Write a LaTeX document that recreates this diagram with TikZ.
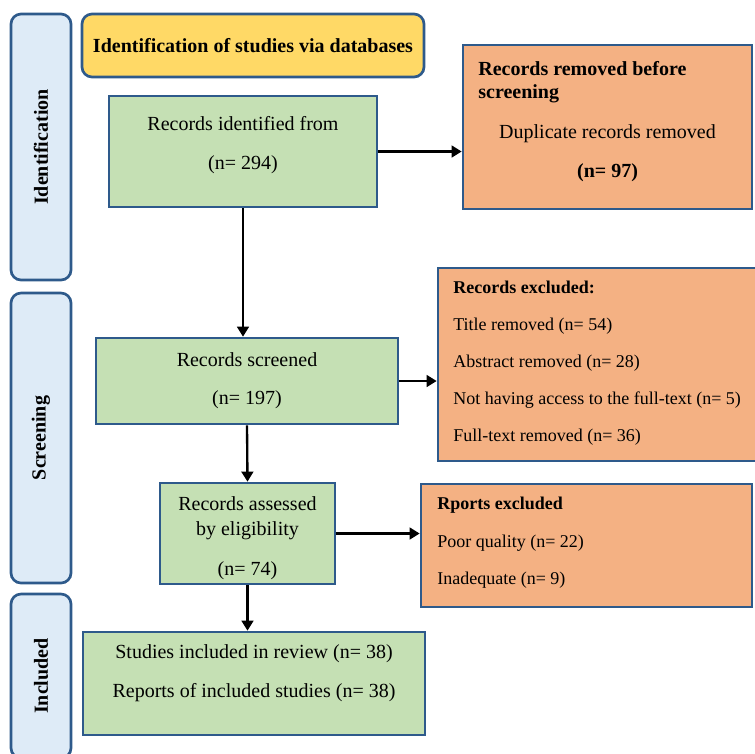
\documentclass[tikz,border=0pt]{standalone}
\usepackage{fontspec}
\setmainfont{Liberation Serif}
\usetikzlibrary{arrows.meta}

\definecolor{boxline}{HTML}{2E5A8B}
\definecolor{boxgreen}{HTML}{C5E0B4}
\definecolor{boxorange}{HTML}{F4B183}
\definecolor{boxyellow}{HTML}{FFD966}
\definecolor{boxblue}{HTML}{DEEBF7}

\begin{document}
\begin{tikzpicture}[x=0.6pt,y=-0.6pt,
  every node/.style={font=\fontsize{12}{14}\selectfont},
  boxsize/.style 2 args={minimum width=#1*0.6pt,minimum height=#2*0.6pt},
  flowbox/.style={draw=boxline,line width=1.6pt,inner sep=0pt},
  greenbox/.style={flowbox,fill=boxgreen},
  orangebox/.style={flowbox,fill=boxorange},
  sidebox/.style={flowbox,fill=boxblue,rounded corners=6pt,rotate=90},
  headbox/.style={flowbox,fill=boxyellow,rounded corners=6pt},
  txt/.style={anchor=base,inner sep=0pt},
  ltxt/.style={anchor=base west,inner sep=0pt},
  smalltxt/.style={ltxt,font=\fontsize{10.8}{13}\selectfont},
  flow/.style={-{Triangle[length=6pt,width=7pt]},line width=1.4pt}]

\useasboundingbox (0,0) rectangle (755,753);

% stages
\node[sidebox,boxsize={266}{60}] (sideId) at (41,147) {\textbf{Identification}};
\node[sidebox,boxsize={290}{60}] (sideScr) at (41,438) {\textbf{Screening}};
\node[sidebox,boxsize={164}{60}] (sideInc) at (41,676) {\textbf{Included}};

\node[headbox,boxsize={342}{63}] (head) at (253,45.5) {\textbf{Identification of studies via databases}};

% identification
\node[greenbox,boxsize={268}{111}] (ident) at (243,151.5) {};
\node[txt] (identA) at (243,130) {Records identified from};
\node[txt] (identB) at (243,169) {(n= 294)};

\node[orangebox,boxsize={289}{164}] (removed) at (607.5,127) {};
\node[ltxt] (removedA) at (478,75) {\textbf{Records removed before}};
\node[ltxt] (removedB) at (478,98) {\textbf{screening}};
\node[txt] (removedC) at (607.5,138) {Duplicate records removed};
\node[txt] (removedD) at (607.5,177) {\textbf{(n= 97)}};

% screening
\node[greenbox,boxsize={302}{86}] (screened) at (247,381) {};
\node[txt] (screenedA) at (247,366) {Records screened};
\node[txt] (screenedB) at (247,404) {(n= 197)};

\node[orangebox,boxsize={327}{193}] (excluded) at (601.5,364.5) {};
\node[smalltxt] (excludedA) at (453,293) {\textbf{Records excluded:}};
\node[smalltxt] (excludedB) at (453,330) {Title removed (n= 54)};
\node[smalltxt] (excludedC) at (453,367) {Abstract removed (n= 28)};
\node[smalltxt] (excludedD) at (453,404) {Not having access to the full-text (n= 5)};
\node[smalltxt] (excludedE) at (453,441) {Full-text removed (n= 36)};

\node[greenbox,boxsize={175}{101}] (assessed) at (247.5,533.5) {};
\node[txt] (assessedA) at (247.5,510) {Records assessed};
\node[txt] (assessedB) at (247.5,535) {by eligibility};
\node[txt] (assessedC) at (247.5,575) {(n= 74)};

\node[orangebox,boxsize={331}{123}] (rexcl) at (586.5,545.5) {};
\node[smalltxt] (rexclA) at (437,509) {\textbf{Rports excluded}};
\node[smalltxt] (rexclB) at (437,547) {Poor quality (n= 22)};
\node[smalltxt] (rexclC) at (437,584) {Inadequate (n= 9)};

% included
\node[greenbox,boxsize={342}{103}] (included) at (254,683.5) {};
\node[txt] (includedA) at (254,658) {Studies included in review (n= 38)};
\node[txt] (includedB) at (254,697) {Reports of included studies (n= 38)};

% arrows
\draw[flow] (ident.east) -- (ident.east -| removed.west);
\draw[flow] (ident.south) -- (ident.south |- screened.north);
\draw[flow] (screened.east) -- (screened.east -| excluded.west);
\draw[flow] (screened.south) -- (assessed.north);
\draw[flow] (assessed.east) -- (assessed.east -| rexcl.west);
\draw[flow] (assessed.south) -- (assessed.south |- included.north);

\end{tikzpicture}
\end{document}
